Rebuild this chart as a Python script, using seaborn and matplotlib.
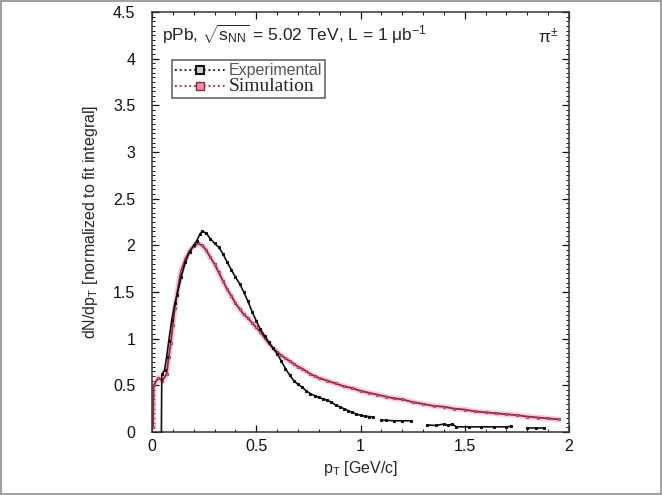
import numpy as np
import pandas as pd
import matplotlib
matplotlib.use("Agg")
import matplotlib.pyplot as plt
import seaborn as sns
from matplotlib.lines import Line2D
from matplotlib.patches import Rectangle
from matplotlib.ticker import MultipleLocator, FuncFormatter

# experimental spectrum (segments = pieces of the broken line)
exp_pt = [0.045, 0.047, 0.06, 0.07, 0.08, 0.095, 0.11, 0.12, 0.14, 0.16, 0.18, 0.20,
          0.215, 0.23, 0.24, 0.26, 0.28, 0.30, 0.32, 0.34, 0.36, 0.38, 0.40, 0.42,
          0.44, 0.46, 0.48, 0.50, 0.52, 0.54, 0.56, 0.58, 0.60, 0.62, 0.64, 0.66,
          0.68, 0.70, 0.72, 0.74, 0.76, 0.78, 0.80, 0.82, 0.84, 0.86, 0.88, 0.90,
          0.92, 0.94, 0.96, 0.98, 1.00, 1.02, 1.04, 1.06,
          1.10, 1.12, 1.16, 1.20, 1.24,
          1.32, 1.36, 1.40, 1.42, 1.44, 1.46, 1.52, 1.58, 1.64, 1.70, 1.72,
          1.80, 1.84, 1.88]
exp_val = [0.0, 0.62, 0.66, 0.80, 0.97, 1.20, 1.38, 1.47, 1.66, 1.82, 1.93, 2.00,
           2.05, 2.12, 2.15, 2.13, 2.07, 2.02, 1.98, 1.91, 1.82, 1.74, 1.66, 1.59,
           1.50, 1.40, 1.29, 1.19, 1.10, 1.03, 0.96, 0.90, 0.84, 0.76, 0.68, 0.61,
           0.55, 0.51, 0.48, 0.44, 0.41, 0.39, 0.37, 0.355, 0.34, 0.32, 0.29, 0.27,
           0.25, 0.23, 0.21, 0.19, 0.18, 0.17, 0.165, 0.16,
           0.13, 0.125, 0.12, 0.12, 0.12,
           0.075, 0.07, 0.085, 0.07, 0.085, 0.055, 0.055, 0.055, 0.055, 0.055, 0.06,
           0.045, 0.045, 0.045]
exp_seg = [0] * 56 + [1] * 5 + [2] * 11 + [3] * 3

# simulated spectrum
sim_pt = [0.005, 0.008, 0.03, 0.05, 0.07, 0.08, 0.09, 0.10, 0.11, 0.12, 0.13, 0.14,
          0.16, 0.18, 0.20, 0.22, 0.24, 0.26, 0.28, 0.30, 0.32, 0.34, 0.36, 0.38,
          0.40, 0.42, 0.44, 0.46, 0.48, 0.50, 0.52, 0.54, 0.56, 0.58, 0.60, 0.62,
          0.64, 0.66, 0.68, 0.70, 0.72, 0.74, 0.76, 0.78, 0.80, 0.84, 0.88, 0.92,
          0.96, 1.00, 1.04, 1.08, 1.12, 1.16, 1.20, 1.25, 1.30, 1.35, 1.40, 1.45,
          1.50, 1.55, 1.60, 1.65, 1.70, 1.75, 1.80, 1.85, 1.90, 1.95]
sim_val = [0.05, 0.50, 0.58, 0.55, 0.62, 0.80, 0.95, 1.15, 1.33, 1.48, 1.62, 1.73,
           1.85, 1.94, 1.99, 2.02, 2.00, 1.95, 1.87, 1.80, 1.71, 1.62, 1.53, 1.46,
           1.38, 1.32, 1.26, 1.22, 1.17, 1.12, 1.07, 1.01, 0.95, 0.90, 0.86, 0.82,
           0.79, 0.76, 0.73, 0.70, 0.68, 0.65, 0.62, 0.60, 0.58, 0.55, 0.52, 0.49,
           0.47, 0.44, 0.42, 0.40, 0.38, 0.36, 0.35, 0.32, 0.30, 0.28, 0.27, 0.25,
           0.24, 0.22, 0.21, 0.20, 0.19, 0.18, 0.165, 0.155, 0.145, 0.135]

exp_df = pd.DataFrame({"pt": exp_pt, "val": exp_val, "seg": exp_seg})
sim_df = pd.DataFrame({"pt": sim_pt, "val": sim_val, "seg": 0})

sns.set_style("ticks")
plt.rcParams["font.family"] = ["Liberation Sans", "DejaVu Sans"]
plt.rcParams["mathtext.fontset"] = "custom"
plt.rcParams["mathtext.rm"] = "Liberation Sans"
plt.rcParams["mathtext.it"] = "Liberation Sans"

fig = plt.figure(figsize=(6.62, 4.95), dpi=100)
ax = fig.add_axes([0.2296, 0.1273, 0.63, 0.8485])
fig.patches.append(Rectangle((0.002, 0.002), 0.996, 0.996, transform=fig.transFigure,
                             fill=False, edgecolor="#909090", lw=1.2))

red = "#9a2442"
# pink glow under the simulation line
sns.lineplot(data=sim_df, x="pt", y="val", units="seg", estimator=None, ax=ax,
             color="#eea0b4", lw=4, alpha=0.55, legend=False)
sns.lineplot(data=sim_df, x="pt", y="val", units="seg", estimator=None, ax=ax,
             color=red, lw=1.3, marker="s", markersize=1.8, markerfacecolor="#d88aa0",
             markeredgecolor=red, markeredgewidth=0.5, legend=False)
sns.lineplot(data=exp_df, x="pt", y="val", units="seg", estimator=None, ax=ax,
             color="#111111", lw=1.2, marker="s", markersize=1.8,
             markeredgecolor="#111111", legend=False)

ax.set_xlim(0, 2)
ax.set_ylim(0, 4.5)
ax.xaxis.set_major_locator(MultipleLocator(0.5))
ax.xaxis.set_minor_locator(MultipleLocator(0.1))
ax.yaxis.set_major_locator(MultipleLocator(0.5))
ax.yaxis.set_minor_locator(MultipleLocator(0.05))
fmt = FuncFormatter(lambda v, p: f"{v:g}")
ax.xaxis.set_major_formatter(fmt)
ax.yaxis.set_major_formatter(fmt)
ax.tick_params(which="both", direction="in", top=True, right=True, labelsize=11.5,
               colors="#111111")
ax.tick_params(which="major", length=5, width=0.9)
ax.tick_params(which="minor", length=2.5, width=0.7)
ax.tick_params(axis="y", pad=12)
ax.tick_params(axis="x", pad=5)
for s in ax.spines.values():
    s.set_linewidth(1.1)
    s.set_color("#333333")

ax.set_xlabel(r"p$_\mathregular{T}$ [GeV/c]", fontsize=11.5, labelpad=4)
ax.set_ylabel(r"dN/dp$_\mathregular{T}$ [normalized to fit integral]", fontsize=11.5,
              labelpad=9)

ax.text(0.025, 0.975, r"pPb, $\sqrt{\mathregular{s}_\mathregular{NN}}$ = 5.02 TeV, L = 1 $\mu$b$^{-1}$",
        transform=ax.transAxes, ha="left", va="top", fontsize=12.5)
ax.text(0.975, 0.965, r"$\pi^{\pm}$", transform=ax.transAxes, ha="right", va="top",
        fontsize=12.5)

handles = [
    Line2D([], [], color="#111111", ls=":", lw=1.3, marker="s", markersize=5.5,
           markerfacecolor="#cccccc", markeredgecolor="#111111", markeredgewidth=1.5),
    Line2D([], [], color=red, ls=":", lw=1.3, marker="s", markersize=5.5,
           markerfacecolor="#e890a8", markeredgecolor=red, markeredgewidth=1),
]
leg = ax.legend(handles, ["Experimental", "Simulation"], loc="upper left",
                bbox_to_anchor=(0.048, 0.886), frameon=True, fancybox=False,
                edgecolor="#333333", handlelength=3.6, borderpad=0.2,
                labelspacing=0.05, handletextpad=0.3, borderaxespad=0)
leg.get_frame().set_linewidth(1.1)
t1, t2 = leg.get_texts()
t1.set_fontsize(11.5)
t1.set_color("#555555")
t2.set_fontfamily(["Liberation Serif", "DejaVu Serif"])
t2.set_fontsize(14)

fig.savefig("out.png", dpi=100)
